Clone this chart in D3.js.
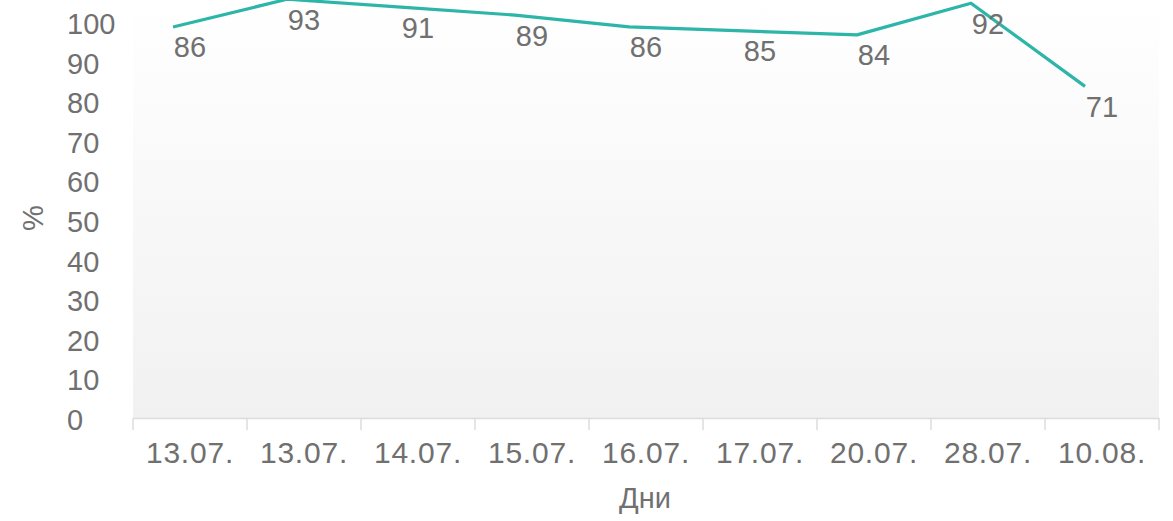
<!DOCTYPE html>
<html>
<head>
<meta charset="utf-8">
<script src="https://cdn.jsdelivr.net/npm/d3@7"></script>
<style>
  html, body { margin: 0; padding: 0; background: #fff; }
  svg { display: block; }
  text { font-family: "Liberation Sans", Arial, sans-serif; fill: #707070; }
</style>
</head>
<body>
<svg id="chart" width="1173" height="521"></svg>
<script>
const categories = ["13.07.", "13.07.", "14.07.", "15.07.", "16.07.", "17.07.", "20.07.", "28.07.", "10.08."];
const lineValues = [99, 106, 104, 102, 99, 98, 97, 105, 84];
const labelValues = [86, 93, 91, 89, 86, 85, 84, 92, 71];
const yTicks = [0, 10, 20, 30, 40, 50, 60, 70, 80, 90, 100];

const plotLeft = 133, plotRight = 1159, plotTop = 23, plotBottom = 419;
const svg = d3.select("#chart");

const x = d3.scaleBand().domain(d3.range(categories.length)).range([plotLeft, plotRight]).padding(0);
const y = d3.scaleLinear().domain([0, 100]).range([plotBottom, plotTop]);

const defs = svg.append("defs");
const grad = defs.append("linearGradient").attr("id", "bg").attr("x1", 0).attr("y1", 0).attr("x2", 0).attr("y2", 1);
grad.append("stop").attr("offset", "0%").attr("stop-color", "#ffffff");
grad.append("stop").attr("offset", "100%").attr("stop-color", "#f1f1f1");

svg.append("rect").attr("x", plotLeft).attr("y", 0).attr("width", plotRight - plotLeft).attr("height", 418)
  .attr("fill", "url(#bg)");

// Y axis
const yAxis = svg.append("g").attr("transform", `translate(${plotLeft},0)`)
  .call(d3.axisLeft(y).tickValues(yTicks).tickSize(0).tickFormat(d3.format("d")));
yAxis.select(".domain").remove();
yAxis.selectAll("text").attr("x", 67 - plotLeft).attr("text-anchor", "start")
  .attr("dy", "0.36em").style("font-size", "29px")
  .style("font-family", '"Liberation Sans", Arial, sans-serif').attr("fill", "#707070");

// X axis
const xAxis = svg.append("g").attr("transform", `translate(0,418)`)
  .call(d3.axisBottom(x).tickSize(0).tickFormat(i => categories[i]));
xAxis.select(".domain").attr("stroke", "#dcdcdc").attr("stroke-width", 1.5);
xAxis.selectAll("text").attr("y", 45).attr("dy", 0).style("font-size", "30px")
  .style("letter-spacing", "0.8px")
  .style("font-family", '"Liberation Sans", Arial, sans-serif').attr("fill", "#707070");

const bounds = categories.map((c, i) => x(i)).concat([plotRight]);
svg.append("g").selectAll("line").data(bounds).join("line")
  .attr("x1", d => d).attr("x2", d => d).attr("y1", 418).attr("y2", 430)
  .attr("stroke", "#dcdcdc").attr("stroke-width", 1.5);

// Line
const offset = -17;
const line = d3.line().x((d, i) => x(i) + x.bandwidth() / 2 + offset).y(d => y(d));
svg.append("path").datum(lineValues).attr("d", line)
  .attr("fill", "none").attr("stroke", "#2cb5a8").attr("stroke-width", 3.2)
  .attr("stroke-linejoin", "round");

// Data labels
svg.append("g").selectAll("text").data(labelValues).join("text")
  .attr("x", (d, i) => x(i) + x.bandwidth() / 2)
  .attr("y", (d, i) => y(lineValues[i]) + 20)
  .attr("dy", "0.36em")
  .attr("text-anchor", "middle")
  .style("font-size", "29px")
  .text(d => d);

// Axis titles
svg.append("text").attr("transform", "translate(33,218) rotate(-90)")
  .attr("text-anchor", "middle").attr("dy", "0.36em").style("font-size", "29px").text("%");
svg.append("text").attr("x", 645).attr("y", 508).attr("text-anchor", "middle")
  .style("font-size", "29px").text("Дни");
</script>
</body>
</html>
